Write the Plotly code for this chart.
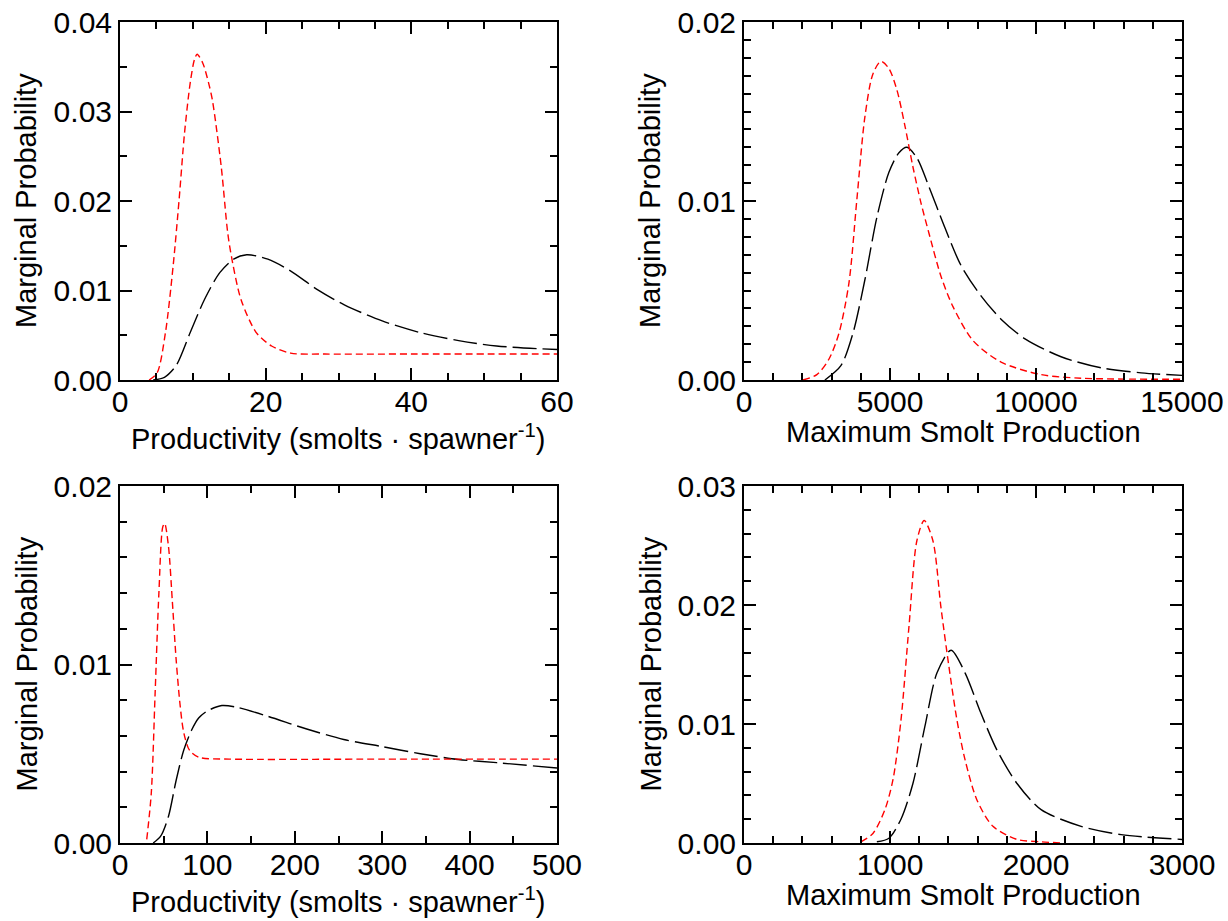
import plotly.graph_objects as go

# ---------------- data ----------------
# Panel 1 (top-left): Productivity
p1_red_x = [4.0, 5.1, 6.24, 7.29, 8.12, 8.86, 9.64, 10.22, 10.59, 11.37, 12.16, 12.68, 13.89, 14.78, 15.3, 16.61, 18.71, 20.81, 23.43, 28.1, 40, 60]
p1_red_y = [0.0, 0.0008, 0.0053, 0.0127, 0.0202, 0.0276, 0.0332, 0.0358, 0.0364, 0.0354, 0.0332, 0.0313, 0.0239, 0.0165, 0.0138, 0.0090, 0.0053, 0.0038, 0.0030, 0.0029, 0.0029, 0.0029]
p1_blk_x = [4.56, 6.1, 7.7, 9.64, 11.6, 13.7, 15.6, 17.4, 20.3, 23.4, 27.1, 30.8, 36.0, 41.2, 46.5, 51.7, 60]
p1_blk_y = [0.0, 0.0003, 0.0016, 0.0053, 0.0090, 0.0120, 0.0135, 0.0140, 0.0135, 0.0122, 0.0101, 0.0084, 0.0066, 0.0053, 0.0044, 0.0038, 0.0034]

# Panel 2 (top-right): Maximum Smolt Production
p2_red_x = [2015, 2495, 2907, 3250, 3592, 3866, 4140, 4415, 4689, 4963, 5237, 5511, 5786, 6060, 6334, 6745, 7157, 7842, 8802, 10173, 11544, 15000]
p2_red_y = [0.0, 0.0003, 0.00116, 0.0026, 0.0054, 0.0101, 0.0147, 0.0171, 0.0178, 0.0174, 0.0162, 0.0142, 0.0119, 0.0099, 0.0082, 0.0058, 0.0041, 0.0022, 0.0010, 0.0003, 0.0001, 0.00004]
p2_blk_x = [2770, 3318, 3729, 4140, 4552, 4963, 5306, 5580, 5923, 6334, 6882, 7431, 8116, 8802, 9624, 10858, 12229, 13600, 15000]
p2_blk_y = [0.0, 0.0008, 0.0026, 0.0056, 0.0091, 0.0116, 0.0127, 0.0130, 0.0124, 0.0108, 0.0085, 0.0064, 0.0047, 0.0034, 0.0023, 0.0013, 0.00068, 0.00040, 0.00026]

# Panel 3 (bottom-left): Productivity
p3_red_x = [30.6, 35.8, 40.2, 44.5, 48.9, 51.1, 55.5, 59.8, 64.2, 68.6, 72.9, 79.5, 90.4, 125, 300, 500]
p3_red_y = [0.0002, 0.0028, 0.0084, 0.0140, 0.0177, 0.0179, 0.0166, 0.0136, 0.0103, 0.0078, 0.0062, 0.0052, 0.0048, 0.0047, 0.0047, 0.0047]
p3_blk_x = [38, 46.7, 55.5, 64.2, 72.9, 81.7, 90, 100, 116.6, 134, 169, 212.7, 256, 300, 343.7, 387, 431, 500]
p3_blk_y = [0.0, 0.0004, 0.0015, 0.0035, 0.0052, 0.0063, 0.0070, 0.0074, 0.0077, 0.0076, 0.0071, 0.0064, 0.0058, 0.0054, 0.0050, 0.00468, 0.0045, 0.0042]

# Panel 4 (bottom-right): Maximum Smolt Production
p4_red_x = [801, 883, 965, 1020, 1075, 1130, 1184, 1234, 1294, 1349, 1404, 1459, 1514, 1596, 1705, 1870, 2035, 2172]
p4_red_y = [0.0001, 0.0008, 0.0028, 0.0053, 0.0103, 0.0182, 0.0254, 0.0271, 0.0254, 0.0198, 0.0148, 0.0103, 0.0070, 0.0036, 0.0014, 0.0003, 0.0001, 0.0]
p4_blk_x = [910, 993, 1075, 1157, 1239, 1322, 1418, 1514, 1623, 1733, 1870, 2035, 2309, 2583, 3000]
p4_blk_y = [0.0001, 0.0004, 0.0020, 0.0050, 0.0098, 0.0143, 0.0162, 0.0143, 0.0109, 0.0078, 0.0050, 0.0028, 0.0014, 0.0007, 0.0003]

x_title_prod = "Productivity (smolts · spawner<sup>-1</sup>)"
x_title_max = "Maximum Smolt Production"
y_title = "Marginal Probability"

W, H = 1228, 921
FONT = "Liberation Sans, Arial, Helvetica, sans-serif"
TICK_SIZE = 30
TITLE_SIZE = 29

# panel geometry in pixels (left, right, top, bottom) and title offset below the axis
panels = [
    dict(px=(120, 557), py=(22, 380), xr=[0, 60], xd=20, xm=5, yr=[0, 0.04], yd=0.01, ym=0.005,
         red=(p1_red_x, p1_red_y), blk=(p1_blk_x, p1_blk_y), xt=x_title_prod, toff=57),
    dict(px=(744, 1182), py=(22, 380), xr=[0, 15000], xd=5000, xm=1000, yr=[0, 0.02], yd=0.01, ym=0.001,
         red=(p2_red_x, p2_red_y), blk=(p2_blk_x, p2_blk_y), xt=x_title_max, toff=52),
    dict(px=(120, 557), py=(486, 843), xr=[0, 500], xd=100, xm=50, yr=[0, 0.02], yd=0.01, ym=0.002,
         red=(p3_red_x, p3_red_y), blk=(p3_blk_x, p3_blk_y), xt=x_title_prod, toff=57),
    dict(px=(744, 1182), py=(486, 843), xr=[0, 3000], xd=1000, xm=200, yr=[0, 0.03], yd=0.01, ym=0.002,
         red=(p4_red_x, p4_red_y), blk=(p4_blk_x, p4_blk_y), xt=x_title_max, toff=52),
]

fig = go.Figure()
layout = dict(
    width=W, height=H, margin=dict(l=0, r=0, t=0, b=0, autoexpand=False),
    paper_bgcolor="white", plot_bgcolor="white", showlegend=False,
    font=dict(family=FONT, color="black", size=TICK_SIZE),
)
annotations = []

for i, p in enumerate(panels, start=1):
    xa = "x" if i == 1 else f"x{i}"
    ya = "y" if i == 1 else f"y{i}"
    xkey = "xaxis" if i == 1 else f"xaxis{i}"
    ykey = "yaxis" if i == 1 else f"yaxis{i}"
    xdom = [p["px"][0] / W, p["px"][1] / W]
    ydom = [1 - p["py"][1] / H, 1 - p["py"][0] / H]

    fig.add_trace(go.Scatter(x=p["blk"][0], y=p["blk"][1], xaxis=xa, yaxis=ya, mode="lines",
                             line=dict(color="black", width=1.4, dash="24px,6px", shape="spline", smoothing=0.8),
                             hoverinfo="skip"))
    fig.add_trace(go.Scatter(x=p["red"][0], y=p["red"][1], xaxis=xa, yaxis=ya, mode="lines",
                             line=dict(color="#ff0000", width=1.4, dash="7px,4px", shape="spline", smoothing=0.8),
                             hoverinfo="skip"))

    common = dict(showline=True, linecolor="black", linewidth=2, mirror="ticks", ticks="inside",
                  ticklen=12, tickwidth=2, tickcolor="black", showgrid=False, zeroline=False,
                  automargin=False, tickfont=dict(family=FONT, size=TICK_SIZE, color="black"),
                  fixedrange=True)
    layout[xkey] = dict(common, domain=xdom, range=p["xr"], dtick=p["xd"], tick0=0, anchor=ya,
                        tickformat="d", ticklabelstandoff=-6,
                        minor=dict(ticks="inside", ticklen=7, tickwidth=2, tickcolor="black", dtick=p["xm"], tick0=0))
    layout[ykey] = dict(common, domain=ydom, range=p["yr"], dtick=p["yd"], tick0=0, anchor=xa,
                        tickformat=".2f",
                        minor=dict(ticks="inside", ticklen=7, tickwidth=2, tickcolor="black", dtick=p["ym"], tick0=0))

    cx = (xdom[0] + xdom[1]) / 2
    cy = (ydom[0] + ydom[1]) / 2
    annotations.append(dict(text=p["xt"], xref="paper", yref="paper", x=cx, y=1 - (p["py"][1] + p["toff"]) / H,
                            xanchor="center", yanchor="middle", showarrow=False,
                            font=dict(family=FONT, size=TITLE_SIZE, color="black")))
    annotations.append(dict(text=y_title, xref="paper", yref="paper", x=(p["px"][0] - 94) / W, y=cy,
                            xanchor="center", yanchor="middle", textangle=-90, showarrow=False,
                            font=dict(family=FONT, size=TITLE_SIZE, color="black")))

layout["annotations"] = annotations
fig.update_layout(**layout)
fig.write_html("out.html")
